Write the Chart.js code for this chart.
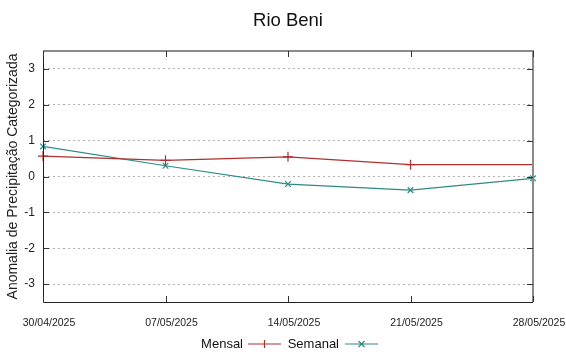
<!DOCTYPE html>
<html>
<head>
<meta charset="utf-8">
<script src="https://cdn.jsdelivr.net/npm/chart.js@4"></script>
<style>
html,body{margin:0;padding:0;background:#fff;}
#wrap{width:566px;height:352px;}
</style>
</head>
<body>
<div id="wrap"><canvas id="c" width="566" height="352"></canvas></div>
<script>
const chartTitle = "Rio Beni";
const yAxisTitle = "Anomalia de Precipitação Categorizada";
const categories = ["30/04/2025", "07/05/2025", "14/05/2025", "21/05/2025", "28/05/2025"];
const mensal = [0.57, 0.45, 0.55, 0.33, 0.33];
const semanal = [0.84, 0.30, -0.21, -0.38, -0.05];
const yTicks = [-3, -2, -1, 0, 1, 2, 3];

const FONT = "'Liberation Sans', Arial, sans-serif";
const RED = "#b0302e";
const TEAL = "#2e8a86";

const decor = {
  id: 'decor',
  afterDraw(chart) {
    const ctx = chart.ctx;
    const a = chart.chartArea;
    const xs = chart.scales.x, ys = chart.scales.y;
    ctx.save();
    // frame
    ctx.strokeStyle = '#8a8a8a';
    ctx.lineWidth = 2;
    ctx.beginPath();
    ctx.moveTo(a.left, a.top); ctx.lineTo(a.right, a.top); ctx.lineTo(a.right, a.bottom);
    ctx.stroke();
    ctx.strokeStyle = '#222';
    ctx.lineWidth = 1;
    ctx.beginPath();
    ctx.moveTo(a.left + 0.5, a.top); ctx.lineTo(a.left + 0.5, a.bottom + 0.5); ctx.lineTo(a.right, a.bottom + 0.5);
    ctx.stroke();
    // inward ticks
    ctx.strokeStyle = '#333';
    ctx.beginPath();
    categories.forEach((c, i) => {
      const x = Math.round(xs.getPixelForValue(i)) + 0.5;
      ctx.moveTo(x, a.bottom); ctx.lineTo(x, a.bottom - 6);
      ctx.moveTo(x, a.top); ctx.lineTo(x, a.top + 6);
    });
    yTicks.forEach(v => {
      const y = Math.round(ys.getPixelForValue(v)) + 0.5;
      ctx.moveTo(a.left, y); ctx.lineTo(a.left + 6, y);
      ctx.moveTo(a.right, y); ctx.lineTo(a.right - 6, y);
    });
    ctx.stroke();
    // title
    ctx.fillStyle = '#111';
    ctx.font = '18.5px ' + FONT;
    ctx.textAlign = 'center';
    ctx.textBaseline = 'middle';
    ctx.fillText(chartTitle, (a.left + a.right) / 2, 21);
    // legend
    ctx.font = '13px ' + FONT;
    ctx.textAlign = 'right';
    const ly = 344;
    const items = chart.data.datasets;
    const entries = [{textRight: 243, x0: 248, x1: 281}, {textRight: 339, x0: 345, x1: 378}];
    items.forEach((d, i) => {
      const e = entries[i];
      ctx.fillStyle = '#111';
      ctx.fillText(d.label, e.textRight, ly);
      ctx.strokeStyle = d.borderColor;
      ctx.lineWidth = 1.2;
      ctx.beginPath();
      ctx.moveTo(e.x0, ly); ctx.lineTo(e.x1, ly);
      const mx = (e.x0 + e.x1) / 2;
      if (d.pointStyle === 'cross') {
        ctx.moveTo(mx, ly - 4); ctx.lineTo(mx, ly + 4);
      } else {
        ctx.moveTo(mx - 3, ly - 3); ctx.lineTo(mx + 3, ly + 3);
        ctx.moveTo(mx - 3, ly + 3); ctx.lineTo(mx + 3, ly - 3);
      }
      ctx.stroke();
    });
    ctx.restore();
  }
};

new Chart(document.getElementById('c'), {
  type: 'line',
  data: {
    labels: categories,
    datasets: [
      {
        label: 'Mensal',
        data: mensal,
        borderColor: RED,
        backgroundColor: RED,
        borderWidth: 1.2,
        pointStyle: 'cross',
        pointRadius: ctx => ctx.dataIndex === mensal.length - 1 ? 0 : 5,
        pointBorderWidth: 1.2,
        tension: 0,
        fill: false,
        clip: false
      },
      {
        label: 'Semanal',
        data: semanal,
        borderColor: TEAL,
        backgroundColor: TEAL,
        borderWidth: 1.2,
        pointStyle: 'crossRot',
        pointRadius: 4,
        pointBorderWidth: 1.2,
        tension: 0,
        fill: false,
        clip: false
      }
    ]
  },
  options: {
    responsive: false,
    animation: false,
    devicePixelRatio: 1,
    layout: { padding: { top: 51, right: 33, bottom: 22, left: 0 } },
    plugins: {
      legend: { display: false },
      title: { display: false },
      tooltip: { enabled: false }
    },
    scales: {
      x: {
        type: 'category',
        offset: false,
        grid: { display: false, drawTicks: false },
        border: { display: false },
        ticks: {
          font: { family: FONT, size: 10.5 },
          color: '#222',
          padding: 15,
          labelOffset: 6,
          maxRotation: 0,
          autoSkip: false
        },
        afterFit: s => { s.height = 28; s.paddingLeft = 0; s.paddingRight = 0; }
      },
      y: {
        min: -3.5,
        max: 3.5,
        grid: { color: '#b0b0b0', lineWidth: 1, drawTicks: false },
        border: { display: false, dash: [2, 3] },
        ticks: {
          font: { family: FONT, size: 12 },
          color: '#222',
          padding: 8
        },
        afterBuildTicks: s => { s.ticks = yTicks.map(v => ({ value: v })); },
        title: {
          display: true,
          text: yAxisTitle,
          font: { family: FONT, size: 14 },
          color: '#222',
          padding: { top: 5, bottom: 0 }
        },
        afterFit: s => { s.width = 43; s.paddingTop = 0; s.paddingBottom = 0; }
      }
    }
  },
  plugins: [decor]
});
</script>
</body>
</html>
